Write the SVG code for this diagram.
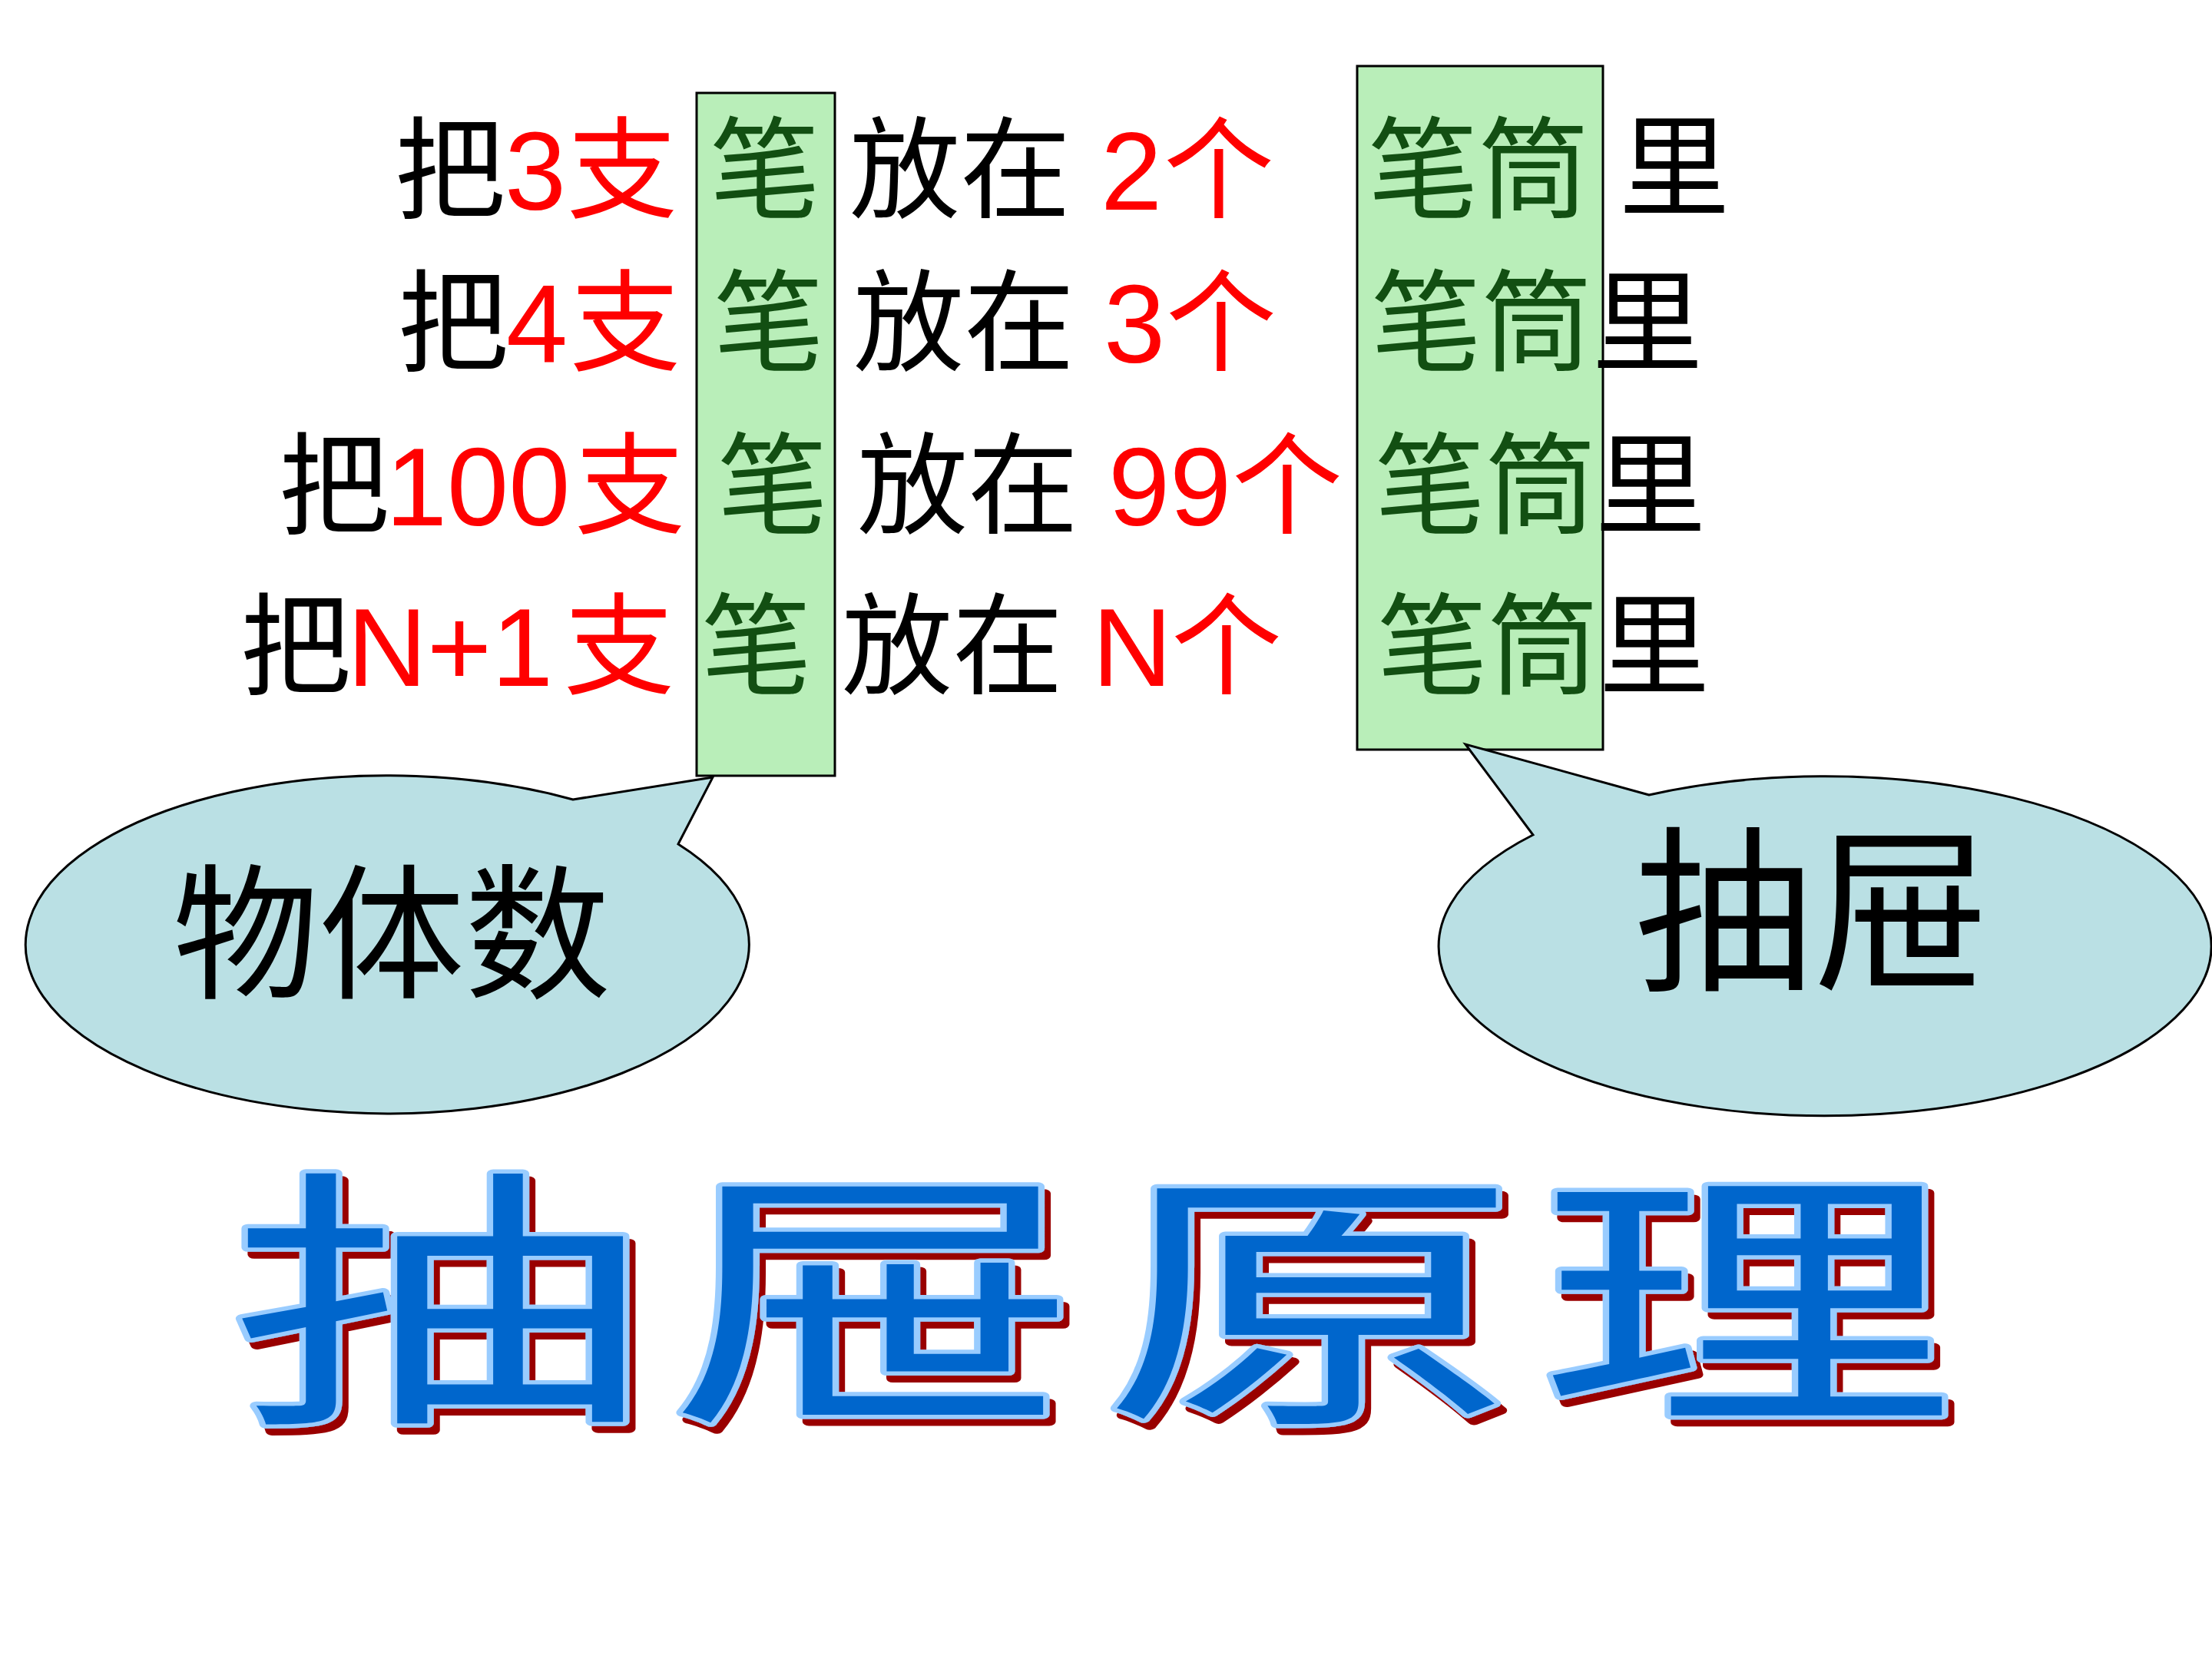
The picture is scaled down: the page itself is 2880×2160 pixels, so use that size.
<svg xmlns="http://www.w3.org/2000/svg" width="2880" height="2160" viewBox="0 0 2880 2160">
<style>
.t{font-family:"Noto Sans CJK SC","Noto Sans CJK JP",sans-serif;font-size:144px}
.d{font-family:"Liberation Sans",Arial,sans-serif;font-size:144px}
.k{fill:#000}
.r{fill:#FF0000}
.g{fill:#124F12}
.box{fill:#B9EEB9;stroke:#000;stroke-width:3}
.call{fill:#BAE0E4;stroke:#000;stroke-width:3;stroke-linejoin:miter}
.big{font-family:"Noto Sans CJK SC","Noto Sans CJK JP",sans-serif;font-size:355px;letter-spacing:16px}
</style>
<defs>
<filter id="shadow" x="-5%" y="-10%" width="110%" height="125%">
<feOffset in="SourceAlpha" dx="5" dy="9" result="off"/>
<feFlood flood-color="#990000"/>
<feComposite in2="off" operator="in" result="sh"/>
<feMerge><feMergeNode in="sh"/><feMergeNode in="SourceGraphic"/></feMerge>
</filter>
</defs>
<rect width="2880" height="2160" fill="#fff"/>
<g id="box-left"><rect class="box" x="907" y="121" width="180" height="889"/></g>
<g id="box-right"><rect class="box" x="1767" y="86" width="320" height="890"/></g>
<g id="rows">
<g id="row1">
<text class="t k" x="514" y="273">把</text>
<text class="d r" x="657" y="273">3</text>
<text class="t r" x="738" y="273">支</text>
<text class="t g" x="924" y="273">笔</text>
<text class="t k" x="1106" y="273">放在</text>
<text class="d r" x="1433" y="273">2</text>
<text class="t r" x="1515" y="273">个</text>
<text class="t g" x="1781" y="273">笔筒</text>
<text class="t k" x="2108" y="270">里</text>
</g>
<g id="row2">
<text class="t k" x="518" y="472">把</text>
<text class="d r" x="659" y="472">4</text>
<text class="t r" x="742" y="472">支</text>
<text class="t g" x="929" y="472">笔</text>
<text class="t k" x="1111" y="472">放在</text>
<text class="d r" x="1437" y="472">3</text>
<text class="t r" x="1518" y="472">个</text>
<text class="t g" x="1785" y="472">笔筒</text>
<text class="t k" x="2073" y="472">里</text>
</g>
<g id="row3">
<text class="t k" x="363" y="684">把</text>
<text class="d r" x="502" y="684">100</text>
<text class="t r" x="748" y="684">支</text>
<text class="t g" x="934" y="684">笔</text>
<text class="t k" x="1116" y="684">放在</text>
<text class="d r" x="1443" y="684">99</text>
<text class="t r" x="1604" y="684">个</text>
<text class="t g" x="1790" y="684">笔筒</text>
<text class="t k" x="2077" y="684">里</text>
</g>
<g id="row4">
<text class="t k" x="313" y="893">把</text>
<text class="d r" x="452" y="893">N+1</text>
<text class="t r" x="734" y="893">支</text>
<text class="t g" x="913" y="893">笔</text>
<text class="t k" x="1096" y="893">放在</text>
<text class="d r" x="1422" y="893">N</text>
<text class="t r" x="1525" y="893">个</text>
<text class="t g" x="1793" y="893">笔筒</text>
<text class="t k" x="2082" y="893">里</text>
</g>
</g>
<g id="callout-left">
<path class="call" d="M746,1041 L928,1012 L883,1099 A471,220 0 1 1 746,1041 Z"/>
<text class="t k" x="510" y="1285" text-anchor="middle" style="font-size:190px">物体数</text>
</g>
<g id="callout-right">
<path class="call" d="M2147,1035 L1908,969 L1996,1087 A503,221 0 1 0 2147,1035 Z"/>
<text class="t k" x="2360" y="1272" text-anchor="middle" style="font-size:232px">抽屉</text>
</g>
<g id="title" transform="translate(300,1826) scale(1.53,1)">
<text class="big" x="0" y="0" fill="#0066CC" stroke="#99CCFF" stroke-width="11" stroke-linejoin="round" paint-order="stroke" filter="url(#shadow)">抽屉原理</text>
</g>
</svg>
